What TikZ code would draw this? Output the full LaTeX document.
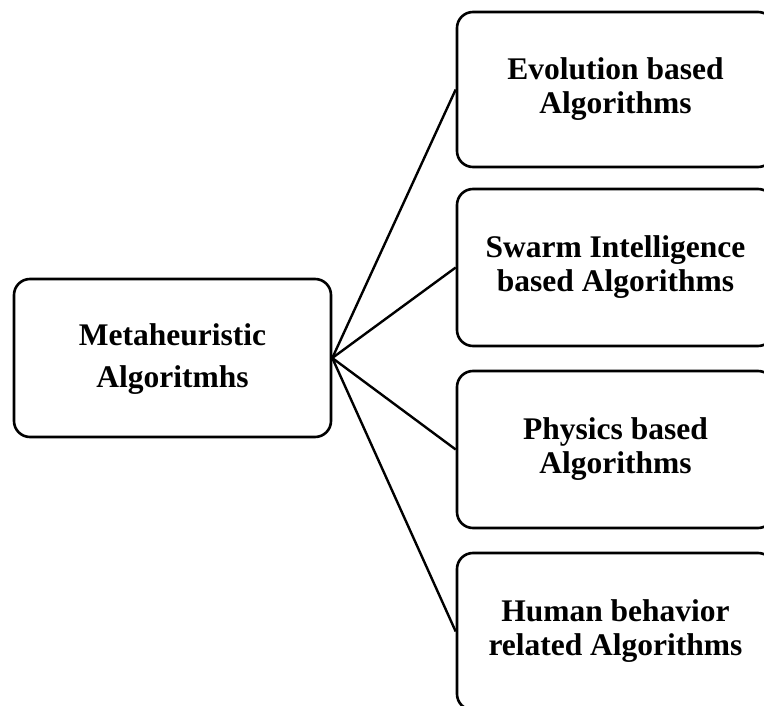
\documentclass[tikz,border=0pt]{standalone}
\usepackage{fontspec}
\setmainfont{Liberation Serif}
% two centred lines; the extra top room (#3) lowers them inside their box by half of it
\newcommand{\boxlines}[3]{\begin{tabular}{@{}c@{}}\rule{0pt}{\dimexpr0.7\baselineskip+#3\relax}#1\\#2\end{tabular}}
\begin{document}
\begin{tikzpicture}[x=1pt,y=-1pt,
  catbox/.style={draw=black, line width=2.6pt, rounded corners=16pt,
    fill=white, align=center, inner sep=0pt,
    font=\fontsize{31.5}{34.5}\selectfont\bfseries},
  rootbox/.style={catbox, font=\fontsize{31.5}{42}\selectfont\bfseries},
  link/.style={draw=black, line width=2.4pt}]
  \useasboundingbox (0,0) rectangle (764,706);
  \clip (0,0) rectangle (764,706);

  % root category
  \node[rootbox, minimum width=317pt, minimum height=158pt] (root) at (172.5,358)
    {\boxlines{Metaheuristic}{Algoritmhs}{3pt}};

  % algorithm families
  \node[catbox, minimum width=317pt, minimum height=155pt] (evo) at (615.5,89.5)
    {\boxlines{Evolution based}{Algorithms}{7pt}};
  \node[catbox, minimum width=317pt, minimum height=157pt] (swarm) at (615.5,267.5)
    {\boxlines{Swarm Intelligence}{based Algorithms}{2pt}};
  \node[catbox, minimum width=317pt, minimum height=157pt] (phys) at (615.5,449.5)
    {\boxlines{Physics based}{Algorithms}{6pt}};
  \node[catbox, minimum width=317pt, minimum height=157pt] (human) at (615.5,631.5)
    {\boxlines{Human behavior}{related Algorithms}{6pt}};

  % connectors
  \draw[link] (root.east) -- (evo.west);
  \draw[link] (root.east) -- (swarm.west);
  \draw[link] (root.east) -- (phys.west);
  \draw[link] (root.east) -- (human.west);
\end{tikzpicture}
\end{document}
